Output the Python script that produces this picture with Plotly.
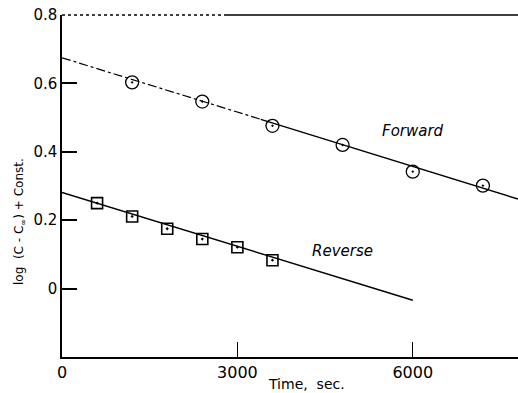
import numpy as np
import plotly.graph_objects as go

# Data
forward_time = [1200, 2400, 3600, 4800, 6000, 7200]
forward_val = [0.603, 0.547, 0.476, 0.420, 0.342, 0.301]
reverse_time = [600, 1200, 1800, 2400, 3000, 3600]
reverse_val = [0.250, 0.211, 0.175, 0.145, 0.121, 0.083]

# Fitted straight lines (end points)
fit_forward_time = [0, 7800]
fit_forward_val = [0.675, 0.262]
fit_reverse_time = [0, 6000]
fit_reverse_val = [0.281, -0.034]

x_ticks = [0, 3000, 6000]
x_tick_labels = ["0", "3000", "6000"]
y_ticks = [0, 0.2, 0.4, 0.6, 0.8]
y_tick_labels = ["0", "0.2", "0.4", "0.6", "0.8"]

FONT = "DejaVu Sans"
W, H = 518, 393
L, R, T, B = 62, 0, 15, 36
PW, PH = W - L - R, H - T - B

# the scanned forward fit line looks broken (dash-dot) on its left part
split_t = 3400
split_v = float(np.interp(split_t, fit_forward_time, fit_forward_val))

fig = go.Figure()
fig.add_trace(go.Scatter(x=[fit_forward_time[0], split_t], y=[fit_forward_val[0], split_v],
                         mode="lines", line=dict(color="black", width=1.2, dash="dashdot"),
                         showlegend=False))
fig.add_trace(go.Scatter(x=[split_t, fit_forward_time[1]], y=[split_v, fit_forward_val[1]],
                         mode="lines", line=dict(color="black", width=1.4),
                         showlegend=False))
fig.add_trace(go.Scatter(x=fit_reverse_time, y=fit_reverse_val, mode="lines",
                         line=dict(color="black", width=1.4), showlegend=False))
fig.add_trace(go.Scatter(x=forward_time, y=forward_val, mode="markers",
                         marker=dict(symbol="circle-open-dot", size=13, color="black",
                                     line=dict(width=1.3)),
                         showlegend=False))
fig.add_trace(go.Scatter(x=reverse_time, y=reverse_val, mode="markers",
                         marker=dict(symbol="square-open-dot", size=11, color="black",
                                     line=dict(width=1.6)),
                         showlegend=False))

fig.add_annotation(x=6000, y=0.461, text="<i>Forward</i>", showarrow=False,
                   font=dict(family=FONT, size=15, color="black"))
fig.add_annotation(x=4800, y=0.111, text="<i>Reverse</i>", showarrow=False,
                   font=dict(family=FONT, size=15, color="black"))
# x-axis title
fig.add_annotation(xref="paper", yref="paper", x=(306 - L) / PW, y=-(384 - (T + PH)) / PH,
                   text="Time,  sec.", showarrow=False, yanchor="middle",
                   font=dict(family=FONT, size=14, color="black"))
# y-axis title
fig.add_annotation(xref="paper", yref="paper", x=-(L - 20) / PW, y=1 - (222 - T) / PH,
                   text="log  (C - C<sub>∞</sub>) + Const.", showarrow=False,
                   textangle=-90, xanchor="center", yanchor="middle",
                   font=dict(family=FONT, size=12, color="black"))

# top border: dotted on the left, solid on the right (as scanned)
fig.add_shape(type="line", xref="paper", yref="paper", x0=0, x1=(225 - L) / PW, y0=1, y1=1,
              line=dict(color="black", width=1.3, dash="dot"))
fig.add_shape(type="line", xref="paper", yref="paper", x0=(225 - L) / PW, x1=1, y0=1, y1=1,
              line=dict(color="black", width=1.6))

fig.update_layout(
    width=W, height=H,
    margin=dict(l=L, r=R, t=T, b=B),
    paper_bgcolor="white", plot_bgcolor="white",
    font=dict(family=FONT, size=15, color="black"),
    xaxis=dict(range=[0, 7800], tickvals=x_ticks, ticktext=x_tick_labels,
               ticks="inside", ticklen=15, tickwidth=1.2, tickcolor="black",
               showline=True, linecolor="black", linewidth=1.5, mirror=False,
               showgrid=False, zeroline=False, tickfont=dict(size=16)),
    yaxis=dict(range=[-0.2, 0.8], tickvals=y_ticks, ticktext=y_tick_labels,
               ticks="inside", ticklen=15, tickwidth=1.5, tickcolor="black",
               showline=True, linecolor="black", linewidth=1.5, mirror=False,
               showgrid=False, zeroline=False, tickfont=dict(size=15)),
)

fig.write_html("out.html")
